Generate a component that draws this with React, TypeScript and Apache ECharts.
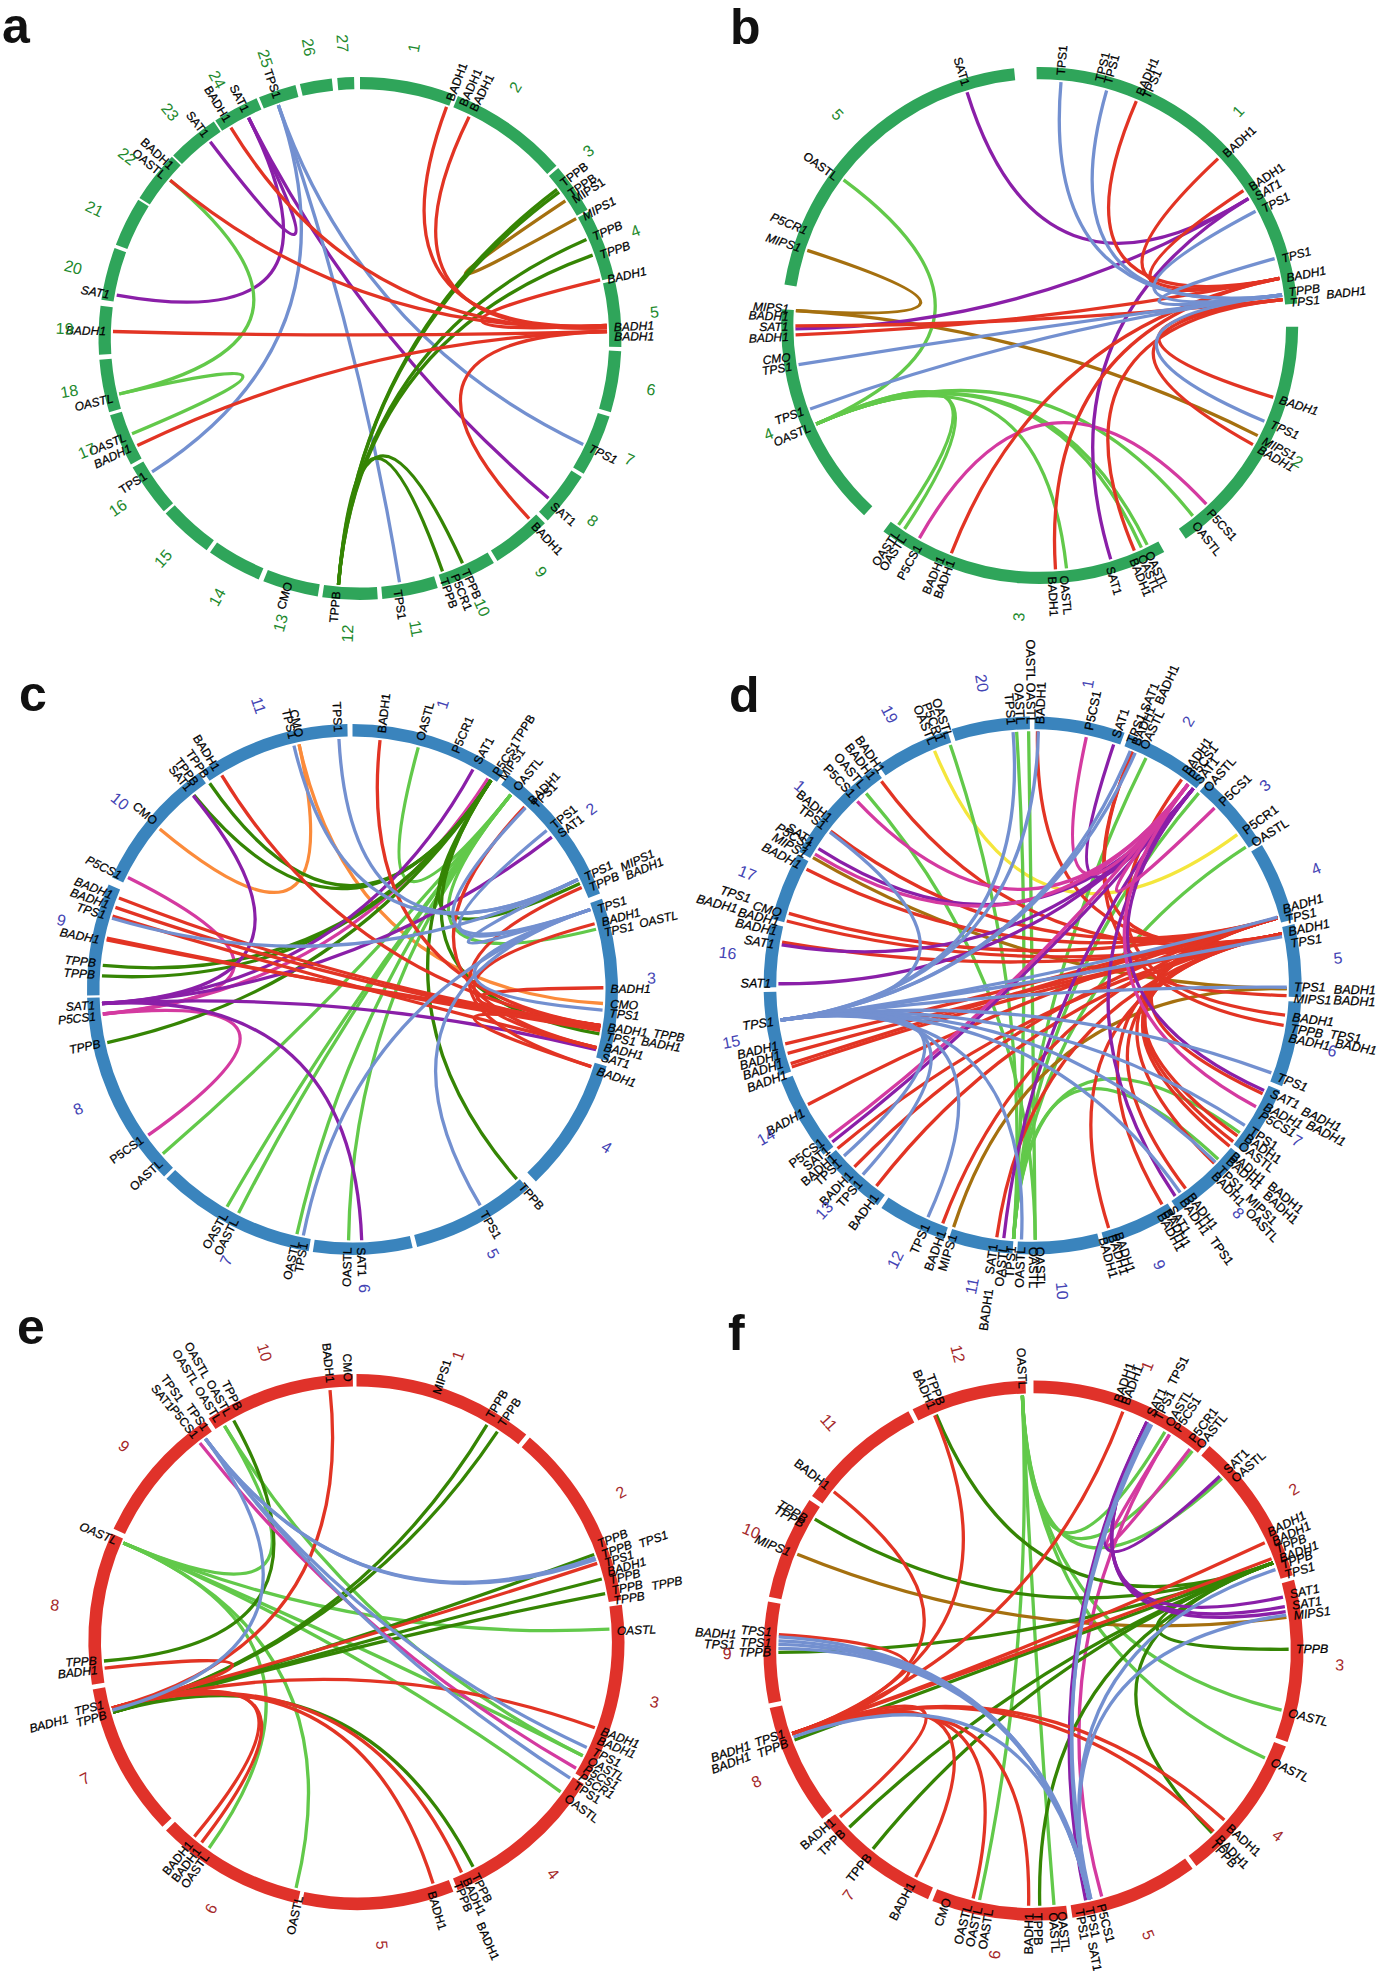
import React, { useEffect, useRef } from "react";
import * as echarts from "echarts";

type Link = [number, number, string];
type Label = [number, string, number?];

const geneColours: Record<string, string> = {
  BADH1: "#E23424", TPS1: "#7390D0", SAT1: "#8A1FA8", OASTL: "#62C94A", TPPB: "#358504",
  MIPS1: "#A5700F", P5CS1: "#D43AA0", CMO: "#FB8B3B", P5CR1: "#F4E63C",
};

// ---------- panel a ----------
const aSegments = [[0,21],[22,48.7],[49.3,60.5],[61,76.5],[77.2,91.9],[92.8,106.4],[107.4,121.2],[122,134.1],[135,148.3],[149.2,161.6],[162.7,175.1],[176.1,188.3],[189.3,201.7],[202.8,215],[215.9,228],[228.6,240.4],[241.2,252.9],[253.6,265.3],[266.4,277.2],[278.5,290.2],[291,302],[302.5,314],[314.4,326],[326.4,336.7],[337.3,345.7],[346.7,353.8],[355,358.7]];
const aNumberAngles = [10.5,31.7,50.6,68.7,84.9,100,114.2,128.1,142.2,155.6,169.1,-177.6,-164.4,-151.1,-138.2,-125,-112.4,-100.3,-88.1,-76.1,-64,-52,-40,-28.9,-18.7,-10,-3.4];
const aLinks: Link[] = [
  [-79.9,-26.8,"SAT1"],[-37.3,-26.8,"SAT1"],[-26.8,130.3,"SAT1"],
  [-50.2,-103,"OASTL"],[-103,-112.7,"OASTL"],
  [-122.7,-19.3,"TPS1"],[-19.3,170.8,"TPS1"],[-19.3,115.4,"TPS1"],
  [56.2,61,"MIPS1"],
  [185,52.9,"TPPB"],[185,53.7,"TPPB"],[185,66.4,"TPPB"],[185,70.3,"TPPB"],[185,155.5,"TPPB"],[185,160.5,"TPPB"],
  [20.5,87,"BADH1"],[26.2,87.5,"BADH1"],[76.3,87,"BADH1"],[-50.2,87,"BADH1"],[-31.5,87.5,"BADH1"],[-88.4,88.4,"BADH1"],[-115.7,88.4,"BADH1"],[136.8,88.4,"BADH1"],
];
const aLabels: Label[] = [
  [20.7,"BADH1"],[23.8,"BADH1"],[26.4,"BADH1"],[52.6,"TPPB"],[55.5,"TPPB"],[57.1,"MIPS1"],[61.5,"MIPS1"],[66.5,"TPPB"],[70.9,"TPPB"],[76.7,"BADH1"],[87.5,"BADH1"],[89.6,"BADH1"],[115.5,"TPS1"],[130.9,"SAT1"],[137,"BADH1"],[155.6,"TPPB"],[158.2,"P5CR1"],[160.8,"TPPB"],[171.5,"TPS1"],
  [-174.7,"TPPB"],[-163.7,"CMO"],[-122.5,"TPS1"],[-115.5,"BADH1"],[-112.8,"OASTL"],[-103.6,"OASTL"],[-88.4,"BADH1"],[-80.1,"SAT1"],[-50.4,"OASTL"],[-47.7,"BADH1"],[-37.2,"SAT1"],[-31.3,"BADH1"],[-26.7,"SAT1"],[-19,"TPS1"],
];

// ---------- panel b ----------
const bSegments = [[-0.7,85.1],[90.3,145.6],[151.2,217.2],[222.8,273.6],[279.1,354.3]];
const bNumberAngles = [42.8,117.8,-175.9,-111.8,-43.8];
const bLinks: Link[] = [
  [-86.5,116.8,"MIPS1"],[-86.5,-72.1,"MIPS1"],
  [-53.4,-113.8,"OASTL"],[-113.8,-146.4,"OASTL"],[-113.8,-144.7,"OASTL"],[-113.8,173.7,"OASTL"],[-113.8,153.9,"OASTL"],[-113.8,155.4,"OASTL"],[-113.8,141.2,"OASTL"],
  [-150.5,137,"P5CS1"],
  [-17.3,58.7,"SAT1"],[-90.8,58.7,"SAT1"],[163.1,58.7,"SAT1"],
  [23.3,78.9,"BADH1"],[46.9,78.9,"BADH1"],[56.5,78.9,"BADH1"],[107.1,83.9,"BADH1"],[119.2,83.9,"BADH1"],[157.2,83.9,"BADH1"],[176.3,78.9,"BADH1"],[-158.8,78.9,"BADH1"],[-92.2,78.9,"BADH1"],[-90.1,83.9,"BADH1"],
  [5,82.8,"TPS1"],[15.9,82.8,"TPS1"],[62.1,83,"TPS1"],[74.1,82.8,"TPS1"],[113.1,82.8,"TPS1"],[-99.2,82.8,"TPS1"],[-110,82.8,"TPS1"],
];
const bLabels: Label[] = [
  [4.8,"TPS1"],[13.7,"TPS1"],[15.7,"TPS1"],[23.4,"BADH1"],[25,"TPS1"],[47.4,"BADH1"],[56.8,"BADH1"],[59.3,"SAT1"],[62.5,"TPS1"],[74.6,"TPS1"],[79.1,"BADH1"],[82.4,"TPPB"],[84.8,"TPS1"],[83.9,"BADH1",1.115],[107.2,"BADH1"],[113.1,"TPS1"],[117.2,"MIPS1"],[119.4,"BADH1"],[137.6,"P5CS1"],[141.9,"OASTL"],[154.4,"OASTL"],[156.2,"OASTL"],[158.2,"BADH1"],[163.8,"SAT1"],[174.5,"OASTL"],[177.2,"BADH1"],
  [-159.4,"BADH1"],[-157,"BADH1"],[-151.2,"P5CS1"],[-147.2,"OASTL"],[-145.4,"OASTL"],[-113.9,"OASTL"],[-109.9,"TPS1"],[-99.4,"TPS1"],[-97.2,"CMO"],[-92.6,"BADH1"],[-90.3,"SAT1"],[-88,"BADH1"],[-86.2,"MIPS1"],[-72.1,"MIPS1"],[-67.9,"P5CR1"],[-54,"OASTL"],[-17.1,"SAT1"],
];

// ---------- panel c ----------
const cSegments = [[0,34.8],[36,68.8],[70,105.6],[106.8,136.3],[138.6,165.9],[166.9,188.6],[189.5,224.5],[225.2,268.2],[268.7,293.3],[295,324.6],[325.6,358.9]];
const cNumberAngles = [17.5,52.9,87.8,121.8,152,177.7,-155,-113.5,-76.6,-51,-18.3];
const cLinks: Link[] = [
  [-50.2,-12.3,"CMO"],[-12.3,93.2,"CMO"],
  [15.2,39.1,"OASTL"],[-130.9,39.1,"OASTL"],[-150,39.1,"OASTL"],[-153,39.1,"OASTL"],[-167.2,39.1,"OASTL"],[180.9,39.1,"OASTL"],[39.1,76.1,"OASTL"],
  [-95.6,32.7,"P5CS1"],[-95.6,-125.5,"P5CS1"],[-63.5,-95.6,"P5CS1"],
  [-84.5,33.5,"TPPB"],[-86.9,33.5,"TPPB"],[-102.2,33.5,"TPPB"],[-39.2,33.5,"TPPB"],[-34.7,33.5,"TPPB"],[33.5,139.1,"TPPB"],[33.5,100.2,"TPPB"],[33.5,65,"TPPB"],
  [-93.2,28.7,"SAT1"],[-93.2,52.6,"SAT1"],[-93.2,103.9,"SAT1"],[-93.2,177.9,"SAT1"],[-93.2,-39.4,"SAT1"],
  [6.3,98.3,"BADH1"],[43.3,103.4,"BADH1"],[-31.4,98.3,"BADH1"],[-68.6,98.3,"BADH1"],[-70.9,99,"BADH1"],[-73,103.4,"BADH1"],[-78.6,98.3,"BADH1"],[-78.2,99.4,"BADH1"],[66,107.9,"BADH1"],[74.8,103.4,"BADH1"],[89.6,98.3,"BADH1"],[107.9,98.3,"BADH1"],
  [-13.5,64,"TPS1"],[-3.1,64,"TPS1"],[-73.5,64,"TPS1"],[43.6,71.4,"TPS1"],[50.7,71.4,"TPS1"],[64,71.4,"TPS1"],[94.7,71.4,"TPS1"],[149.4,71.4,"TPS1"],[-168.7,71.4,"TPS1"],
];
const cLabels: Label[] = [
  [6.5,"BADH1"],[15.2,"OASTL"],[23.4,"P5CR1"],[28.8,"SAT1"],[33.6,"P5CS1"],[35.3,"MIPS1"],[33.3,"TPPB",1.115],[39.2,"OASTL"],[43.6,"BADH1"],[44.7,"TPS1"],[50.8,"TPS1"],[53.2,"SAT1"],[64.3,"TPS1"],[66.8,"TPPB"],[65.6,"MIPS1",1.11],[67.5,"BADH1",1.115],[71.9,"TPS1"],[74.9,"BADH1"],[77.3,"TPS1"],[77.1,"OASTL",1.108],[89.9,"BADH1"],[93.2,"CMO"],[95.3,"TPS1"],[98.4,"BADH1"],[98.3,"TPPB",1.145],[100.5,"TPS1"],[100.1,"BADH1",1.105],[102.9,"BADH1"],[105.2,"SAT1"],[108.4,"BADH1"],[139.2,"TPPB"],[149.6,"TPS1"],[178.1,"SAT1"],
  [-178.9,"OASTL"],[-169.2,"TPS1"],[-167.3,"OASTL"],[-150.4,"OASTL"],[-153,"OASTL"],[-132,"OASTL"],[-125.4,"P5CS1"],[-102.1,"TPPB"],[-96,"P5CS1"],[-93.5,"SAT1"],[-86.7,"TPPB"],[-84.1,"TPPB"],[-78.9,"BADH1"],[-73.3,"TPS1"],[-70.9,"BADH1"],[-68.6,"BADH1"],[-63.9,"P5CS1"],[-49.7,"CMO"],[-39.2,"SAT1"],[-37.3,"TPPB"],[-34.5,"TPPB"],[-31.7,"BADH1"],[-11.9,"CMO"],[-13.4,"TPS1"],[-3.2,"TPS1"],
];

// ---------- panel d ----------
const dSegments = [[0.4,20],[21,39.7],[40.7,57.5],[58.5,75.8],[76.8,92.5],[93.5,112],[113,128.3],[129.3,147.2],[148.2,164.4],[165.4,183.3],[184.3,198.3],[199.3,214.2],[215.2,230.1],[231,249.4],[250.4,268.6],[269.6,283.3],[284.3,299],[299.8,324],[325,341.5],[342.5,359.4]];
const dNumberAngles = [10.4,30.5,49.3,67.6,84.9,102.3,120.4,137.9,155.6,174.5,-168.6,-153.4,-137.2,-119.6,-100.6,-83.9,-68.5,-49.4,-27.8,-9.5];
const dNumberNames = ["1","2","3","4","5","6","7","8","9","10","11","12","13","14","15","16","17","1","19","20"];
const dLinks: Link[] = [
  [-22.7,53.6,"P5CR1"],
  [-18.9,-175.7,"OASTL"],[-40.9,179.4,"OASTL"],[40.8,-175.7,"OASTL"],[26.5,-175.7,"OASTL"],[57,-175.7,"OASTL"],[-3.6,-175.7,"OASTL"],[-0.9,179.4,"OASTL"],[133.1,-175.7,"OASTL"],[125.4,-175.7,"OASTL"],
  [-59.8,90.7,"MIPS1"],[-161.9,90.7,"MIPS1"],
  [1.1,78.3,"BADH1"],[23.1,78.3,"BADH1"],[-36.5,78.3,"BADH1"],[-52.6,74.6,"BADH1"],[-62.8,74.6,"BADH1"],[-73.5,74.6,"BADH1"],[-75.3,78.3,"BADH1"],[-80.2,78.3,"BADH1"],[162.6,78.3,"BADH1"],[143,78.3,"BADH1"],[149.4,74.6,"BADH1"],[126.3,78.3,"BADH1"],[127.9,74.6,"BADH1"],[129.2,78.3,"BADH1"],[134.4,74.6,"BADH1"],[115.2,74.6,"BADH1"],[-103.3,74.6,"BADH1"],[-105.5,78.3,"BADH1"],[-107.9,74.6,"BADH1"],[-108.7,78.3,"BADH1"],[-117.9,74.6,"BADH1"],[-129.9,78.3,"BADH1"],[-135.5,74.6,"BADH1"],[-142.1,78.3,"BADH1"],[-159.3,74.6,"BADH1"],[-171.9,78.3,"BADH1"],[96.7,35.9,"BADH1"],[99,23.1,"BADH1"],[92.3,78.3,"BADH1"],
  [18.6,39.2,"SAT1"],[-57.4,39.2,"SAT1"],[-80.8,39.2,"SAT1"],[-89.6,39.2,"SAT1"],[-128,39.2,"SAT1"],[-173.5,39.2,"SAT1"],[114.4,39.2,"SAT1"],[145.9,39.2,"SAT1"],
  [12.2,37.7,"P5CS1"],[-43.6,37.7,"P5CS1"],[-58.9,37.7,"P5CS1"],[-126.7,37.7,"P5CS1"],[37.7,118.5,"P5CS1"],[45.7,37.7,"P5CS1"],
  [-97.8,22.6,"TPS1"],[-97.8,23.8,"TPS1"],[-97.8,1.3,"TPS1"],[-97.8,-4.4,"TPS1"],[-97.8,-52.9,"TPS1"],[-97.8,90.4,"TPS1"],[-97.8,78.9,"TPS1"],[-97.8,74.4,"TPS1"],[-97.8,110.1,"TPS1"],[-97.8,123.4,"TPS1"],[-97.8,134,"TPS1"],[-97.8,144.5,"TPS1"],[-97.8,-177.5,"TPS1"],[-97.8,-155.7,"TPS1"],[-97.8,-138.1,"TPS1"],[-97.8,-132.1,"TPS1"],
];
const dLabels: Label[] = [
  [12.4,"P5CS1"],[18.6,"SAT1"],[22,"TPS1"],[22.2,"SAT1",1.1],[24.1,"BADH1",1.147],[23.2,"BADH1"],[25.1,"OASTL"],[35.7,"BADH1"],[37.4,"P5CS1"],[39.1,"SAT1"],[41.6,"OASTL"],[46.1,"P5CS1"],[54,"P5CR1"],[57.3,"OASTL"],[73.2,"BADH1"],[75.5,"TPS1"],[78.2,"BADH1"],[80.8,"TPS1"],[90.4,"TPS1"],[90.8,"BADH1",1.12],[92.9,"MIPS1"],[92.8,"BADH1",1.12],[97,"BADH1"],[99.5,"TPPB"],[99.3,"TPS1",1.12],[101.6,"BADH1"],[100.8,"BADH1",1.145],[110.5,"TPS1"],[114.3,"SAT1"],[114.9,"BADH1",1.105],[117.5,"BADH1"],[116.8,"BADH1",1.143],[119.6,"P5CS1"],[123.6,"TPS1"],[125.4,"BADH1"],[127.5,"OASTL"],[130.3,"BADH1"],[130,"BADH1",1.15],[131.7,"BADH1"],[131.9,"BADH1",1.16],[134.4,"TPS1"],[134.4,"MIPS1",1.12],[136.2,"BADH1"],[136.3,"OASTL",1.157],[143.1,"BADH1"],[144.6,"TPS1",1.153],[145,"BADH1"],[148,"SAT1"],[149.3,"BADH1"],[150.8,"BADH1"],[161,"BADH1"],[162.4,"BADH1"],[164.5,"BADH1"],[178.5,"OASTL"],[180,"OASTL"],
  [-177.5,"OASTL"],[-175.5,"TPS1"],[-173.7,"OASTL"],[-171.5,"SAT1"],[-171.9,"BADH1",1.14],[-162.4,"MIPS1"],[-159.9,"BADH1"],[-156.1,"TPS1"],[-143.3,"BADH1"],[-138.7,"TPS1"],[-136,"BADH1"],[-132.5,"TPS1"],[-130.8,"BADH1"],[-128.7,"SAT1"],[-126.6,"P5CS1"],[-119,"BADH1"],[-109.9,"BADH1"],[-107.4,"BADH1"],[-105.4,"BADH1"],[-103.3,"BADH1"],[-98,"TPS1"],[-89.6,"SAT1"],[-81,"SAT1"],[-78.1,"BADH1"],[-76,"BADH1"],[-75.5,"BADH1",1.134],[-74,"CMO"],[-73,"TPS1",1.097],[-62.7,"BADH1"],[-60.1,"MIPS1"],[-58.1,"P5CS1"],[-57,"SAT1"],[-52.7,"TPS1"],[-50.6,"BADH1"],[-43.4,"P5CS1"],[-40.4,"OASTL"],[-37.6,"BADH1"],[-35.2,"BADH1"],[-22.5,"OASTL"],[-20.7,"P5CR1"],[-18.7,"OASTL"],[-4.7,"TPS1"],[-2.7,"OASTL"],[-0.4,"OASTL",1.133],[-0.4,"OASTL"],[1.7,"BADH1"],
];

// ---------- panel e ----------
const eSegments = [[0,39.3],[40.3,81],[82,121],[122,157.8],[158.8,191.8],[192.7,225.3],[226.4,259.8],[260.8,293.9],[295,325.5],[326.5,359.2]];
const eNumberAngles = [19.5,60.5,101.4,139.7,175.2,-151.4,-116.7,-83,-49.9,-17.6];
const eLinks: Link[] = [
  [-67,87.1,"OASTL"],[-67,116.7,"OASTL"],[-67,126.3,"OASTL"],[-67,-31.4,"OASTL"],[-31.4,116.7,"OASTL"],[-67,-166.2,"OASTL"],[-67,-144.4,"OASTL"],
  [-106.1,31,"TPPB"],[-106.1,33.8,"TPPB"],[-106.1,69.8,"TPPB"],[-106.1,75.6,"TPPB"],[-106.1,79,"TPPB"],[-106.1,152.6,"TPPB"],[-29,-94.3,"TPPB"],
  [-38.2,119.9,"P5CS1"],
  [-105.1,-6,"BADH1"],[-105.1,71.9,"BADH1"],[-105.1,109.8,"BADH1"],[-105.1,155.5,"BADH1"],[-105.1,162.4,"BADH1"],[-105.1,-140.2,"BADH1"],[-105.1,-142.3,"BADH1"],[-95.9,-105.1,"BADH1"],
  [-105.6,-36.6,"TPS1"],[-36.6,70.5,"TPS1"],[-36.6,71,"TPS1"],[-36.6,114.6,"TPS1"],[-36.6,122.5,"TPS1"],
];
const eLabels: Label[] = [
  [-1.9,"CMO"],[-5.8,"BADH1"],[17.9,"MIPS1"],[30.6,"TPPB"],[33.7,"TPPB"],[68,"TPPB"],[70.4,"TPPB"],[70.9,"TPS1",1.116],[72.4,"TPS1"],[74.4,"BADH1"],[76.3,"TPPB"],[78.6,"TPPB"],[79.3,"TPPB",1.12],[80.9,"TPPB"],[87.6,"OASTL"],[110,"BADH1"],[112.1,"BADH1"],[114.8,"TPS1"],[117,"OASTL"],[119,"P5CS1"],[121,"P5CR1"],[123.2,"TPS1"],[126.5,"OASTL"],[153,"TPPB"],[155.2,"BADH1"],[156.3,"BADH1",1.145],[157.3,"TPPB"],[163.3,"BADH1"],
  [-167.3,"OASTL"],[-144.8,"OASTL"],[-142.6,"BADH1"],[-140.4,"BADH1"],[-103.9,"TPS1"],[-106.2,"TPPB"],[-104.9,"BADH1",1.113],[-96.2,"BADH1"],[-94.1,"TPPB"],[-67.2,"OASTL"],[-26.8,"TPPB"],[-29.5,"OASTL",1.135],[-31.9,"OASTL",1.134],[-29.4,"OASTL"],[-32,"OASTL"],[-35.3,"TPS1"],[-38.1,"P5CS1"],[-36,"TPS1",1.114],[-38.4,"SAT1",1.11],
];

// ---------- panel f ----------
const fSegments = [[0,39.7],[40.7,73.8],[74.8,109.8],[110.8,142.9],[143.9,171.7],[172.7,202],[203,230.5],[231.5,257.7],[258.7,280.5],[281.5,303.9],[304.9,332.4],[333.4,358.3]];
const fNumberAngles = [21.8,58.2,92.7,127.1,158,-172.7,-142.9,-115.3,-90.6,-67,-41.9,-14.3];
const fLinks: Link[] = [
  [-2.5,31,"OASTL"],[-2.5,38.5,"OASTL"],[-2.5,47.6,"OASTL"],[-2.5,103.5,"OASTL"],[-2.5,114.9,"OASTL"],[-2.5,175.4,"OASTL"],[-2.5,-167.8,"OASTL"],
  [-67.8,82.5,"MIPS1"],
  [32.2,164.5,"P5CS1"],[37.8,32.2,"P5CS1"],
  [-22.4,69.9,"TPPB"],[-59,69.9,"TPPB"],[-90.4,69.9,"TPPB"],[-110.5,69.9,"TPPB"],[-133.8,69.9,"TPPB"],[-141,69.9,"TPPB"],[178.6,69.9,"TPPB"],[89.7,69.9,"TPPB"],[135.6,69.9,"TPPB"],
  [26.4,81.2,"SAT1"],[26.4,80.1,"SAT1"],[26.4,77.9,"SAT1"],[46.9,26.4,"SAT1"],[26.4,168.2,"SAT1"],
  [-109,65,"BADH1"],[-109,68.9,"BADH1"],[-109,-86.4,"BADH1"],[-109,-51.5,"BADH1"],[-109,20.5,"BADH1"],[-109,-22.8,"BADH1"],[-109,131.6,"BADH1"],[-109,-178.9,"BADH1"],[-109,-166.3,"BADH1"],[-109,-152.5,"BADH1"],[-109,-130.7,"BADH1"],[-109,135.1,"BADH1"],
  [-109.8,167.4,"TPS1"],[-89.5,167.4,"TPS1"],[-88.6,167.4,"TPS1"],[-86.9,167.4,"TPS1"],[-87.8,167,"TPS1"],[27.6,167.4,"TPS1"],[27,167,"TPS1"],[71.5,167.4,"TPS1"],[82,167.4,"TPS1"],
];
const fLabels: Label[] = [
  [-2.4,"OASTL"],[18.7,"BADH1"],[20.4,"BADH1"],[26.4,"SAT1"],[28.2,"TPS1"],[27.4,"TPS1",1.11],[31,"OASTL"],[33.1,"P5CS1"],[37,"P5CR1"],[39.1,"OASTL"],[47,"SAT1"],[49.5,"OASTL"],[63.4,"BADH1"],[65.6,"BADH1"],[67.5,"TPPB"],[69.6,"BADH1"],[71,"TPPB"],[73.3,"TPS1"],[77.7,"SAT1"],[80.2,"SAT1"],[82.4,"MIPS1"],[89.7,"TPPB"],[103.7,"OASTL"],[115,"OASTL"],[132.1,"BADH1"],[135.4,"BADH1"],[137,"TPPB"],[165.2,"P5CS1"],[167.8,"TPS1"],[170,"TPS1"],[168.7,"SAT1",1.1],[173.9,"OASTL"],[175.8,"OASTL"],[179.1,"TPPB"],
  [-179.1,"BADH1"],[-170.3,"OASTL"],[-167.9,"OASTL"],[-165.6,"OASTL"],[-160.9,"CMO"],[-152.4,"BADH1"],[-141.3,"TPPB"],[-133.6,"TPPB"],[-130.4,"BADH1"],[-110.6,"TPPB"],[-108.4,"TPS1"],[-108.5,"BADH1",1.106],[-110.4,"BADH1",1.119],[-90.4,"TPPB"],[-88.4,"TPS1"],[-86,"TPS1"],[-86.9,"BADH1",1.102],[-88.9,"TPS1",1.106],[-68.1,"MIPS1"],[-61.3,"TPPB"],[-60,"TPPB"],[-51.5,"BADH1"],[-20.6,"TPPB"],[-22.7,"BADH1"],
];

const GREEN = "#2FA55A", BLUE = "#3A84BD", RED = "#E0322A";
const panels: any[] = [
  { letter: "a", lx: 2, ly: 26, cx: 360, cy: 338.4, r: 261.5, ring: GREEN, num: "#1E8A2E", numR: 1.13, labelSize: 12, segments: aSegments, numbers: aNumberAngles, links: aLinks, labels: aLabels },
  { letter: "b", lx: 730, ly: 27, cx: 1039.7, cy: 325.5, r: 258.5, ring: GREEN, num: "#1E8A2E", numR: 1.13, labelSize: 12, segments: bSegments, numbers: bNumberAngles, links: bLinks, labels: bLabels },
  { letter: "c", lx: 19, ly: 694, cx: 352.5, cy: 989.5, r: 265.5, ring: BLUE, num: "#4444B4", numR: 1.127, labelSize: 12, segments: cSegments, numbers: cNumberAngles, links: cLinks, labels: cLabels },
  { letter: "d", lx: 729, ly: 695, cx: 1032.6, cy: 985.5, r: 269, ring: BLUE, num: "#4444B4", numR: 1.14, labelSize: 12.6, segments: dSegments, numbers: dNumberAngles, names: dNumberNames, links: dLinks, labels: dLabels },
  { letter: "e", lx: 17, ly: 1327, cx: 356.5, cy: 1642, r: 268, ring: RED, num: "#A5282A", numR: 1.134, labelSize: 12, segments: eSegments, numbers: eNumberAngles, links: eLinks, labels: eLabels },
  { letter: "f", lx: 728, ly: 1333, cx: 1033.5, cy: 1650.6, r: 270, ring: RED, num: "#A5282A", numR: 1.135, labelSize: 12.4, segments: fSegments, numbers: fNumberAngles, links: fLinks, labels: fLabels },
];

const FONT = "'Liberation Sans', Arial, sans-serif";
const norm = (a: number) => ((a % 360) + 360) % 360;
const radial = (a: number) => {
  const n = norm(a);
  const right = n <= 180;
  return { right, deg: right ? 90 - n : 270 - n };
};

function buildOption() {
  const polar: any[] = [], angleAxis: any[] = [], radiusAxis: any[] = [], series: any[] = [], graphic: any[] = [];
  panels.forEach((p, i) => {
    polar.push({ center: [p.cx, p.cy], radius: p.r });
    angleAxis.push({ polarIndex: i, type: "value", min: 0, max: 360, startAngle: 90, clockwise: true, show: false });
    radiusAxis.push({ polarIndex: i, type: "value", min: 0, max: 1, show: false });
    graphic.push({ type: "text", x: p.lx, y: p.ly, style: { text: p.letter, fontSize: 50, fontWeight: "bold", fontFamily: FONT, fill: "#111", align: "left", verticalAlign: "middle" } });
    const base = { type: "custom", coordinateSystem: "polar", polarIndex: i, silent: true, animation: false, clip: false };
    series.push({
      ...base, z: 3, data: p.links.map((l: Link) => [0.945, norm(l[0]), norm(l[1])]),
      encode: { radius: 0, angle: 1 },
      renderItem: (params: any, api: any) => {
        const l = p.links[params.dataIndex];
        const a = api.coord([0.945, norm(l[0])]), b = api.coord([0.945, norm(l[1])]), c = api.coord([0, 0]);
        return { type: "bezierCurve", shape: { x1: a[0], y1: a[1], x2: b[0], y2: b[1], cpx1: c[0], cpy1: c[1] }, style: { stroke: geneColours[l[2]], lineWidth: 3.3, fill: "none" } };
      },
    });
    series.push({
      ...base, z: 4, data: p.segments.map((s: number[]) => [1, s[0], s[1]]),
      encode: { radius: 0, angle: 1 },
      renderItem: (params: any, api: any) => {
        const s = p.segments[params.dataIndex];
        const c = api.coord([0, 0]), e = api.coord([1, norm(s[0])]), f = api.coord([0.953, norm(s[0])]);
        const r = Math.hypot(e[0] - c[0], e[1] - c[1]), r0 = Math.hypot(f[0] - c[0], f[1] - c[1]);
        return { type: "sector", shape: { cx: c[0], cy: c[1], r, r0, startAngle: ((s[0] - 90) * Math.PI) / 180, endAngle: ((s[1] - 90) * Math.PI) / 180 }, style: { fill: p.ring } };
      },
    });
    series.push({
      ...base, z: 5, data: p.labels.map((l: Label) => [l[2] ?? 0.972, norm(l[0])]),
      encode: { radius: 0, angle: 1 },
      renderItem: (params: any, api: any) => {
        const l = p.labels[params.dataIndex];
        const pt = api.coord([l[2] ?? 0.972, norm(l[0])]);
        const { right, deg } = radial(l[0]);
        return {
          type: "text", x: pt[0], y: pt[1], rotation: (deg * Math.PI) / 180,
          style: { text: l[1], fontFamily: FONT, fontStyle: Math.abs(deg) < 32 ? "italic" : "normal", fontSize: p.labelSize, fill: "#000", stroke: "#000", lineWidth: 0.25, align: right ? "left" : "right", verticalAlign: "middle" },
        };
      },
    });
    series.push({
      ...base, z: 6, data: p.numbers.map((a: number) => [p.numR, norm(a)]),
      encode: { radius: 0, angle: 1 },
      renderItem: (params: any, api: any) => {
        const a = p.numbers[params.dataIndex];
        const pt = api.coord([p.numR, norm(a)]);
        const name = p.names ? p.names[params.dataIndex] : String(params.dataIndex + 1);
        return { type: "text", x: pt[0], y: pt[1], rotation: (radial(a).deg * Math.PI) / 180, style: { text: name, fontFamily: FONT, fontSize: 16, fill: p.num, align: "center", verticalAlign: "middle" } };
      },
    });
  });
  return { animation: false, backgroundColor: "#fff", polar, angleAxis, radiusAxis, series, graphic };
}

export default function App() {
  const ref = useRef<HTMLDivElement>(null);
  useEffect(() => {
    const chart = echarts.init(ref.current!, undefined, { renderer: "svg" });
    chart.setOption(buildOption() as any);
    return () => chart.dispose();
  }, []);
  return <div ref={ref} style={{ position: "absolute", left: 0, top: 0, width: 1384, height: 1971 }} />;
}
